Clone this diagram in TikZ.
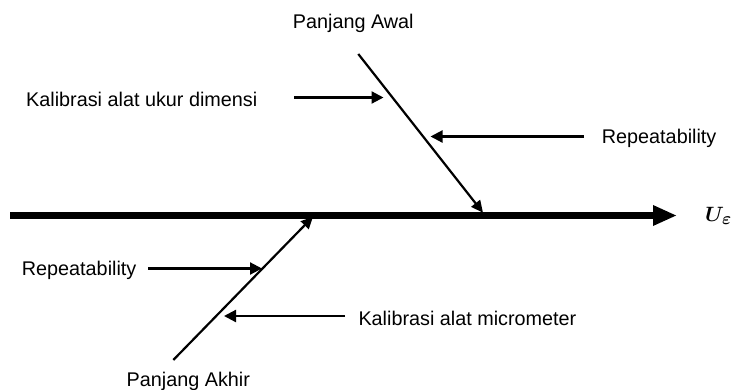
\documentclass[tikz,border=0pt]{standalone}
\usepackage{fontspec}
\setmainfont{Liberation Sans}
\usepackage{amsmath,bm}
\usetikzlibrary{arrows.meta}
\begin{document}
\begin{tikzpicture}[x=1pt,y=-1pt,
  lbl/.style={inner sep=0pt,anchor=base west,font=\fontsize{19.8}{23}\selectfont},
  spine/.style={line width=7pt,-{Triangle[length=24pt,width=19pt]}},
  bone/.style={line width=2.2pt,-{Triangle[length=12pt,width=11pt]}},
  cause/.style={line width=2.2pt,-{Triangle[length=12pt,width=12pt]}}]
\useasboundingbox (0,0) rectangle (733,389);
% spine
\coordinate (s0) at (10,215.5);
\coordinate (s1) at (677,215.5);
\draw[spine] (s0) -- (s1);
\node[inner sep=0pt,anchor=base west] (ue) at (705,221) {\fontsize{21}{24}\selectfont$\bm{U}$\kern-2pt\raisebox{-3pt}{\fontsize{17}{17}\selectfont$\bm{\varepsilon}$}};
% upper bone
\coordinate (a0) at (358.3,54);
\coordinate (a1) at (483,212.7);
\draw[bone] (a0) -- (a1);
\node[lbl,anchor=base] (awal) at (353.3,28.3) {Panjang Awal};
% lower bone
\coordinate (b0) at (173.3,360);
\coordinate (b1) at (313,216.7);
\draw[bone] (b0) -- (b1);
\node[lbl,anchor=base] (akhir) at (188.3,386) {Panjang Akhir};
% causes upper
\node[lbl] (k1) at (26,106.7) {Kalibrasi alat ukur dimensi};
\coordinate (k1s) at (294,97.5);
\coordinate (k1t) at (383.5,97.5);
\draw[cause] (k1s) -- (k1t);
\node[lbl] (r1) at (601.7,143.3) {Repeatability};
\coordinate (r1s) at (584,136.5);
\coordinate (r1t) at (430.5,136.5);
\draw[cause] (r1s) -- (r1t);
% causes lower
\node[lbl] (r2) at (21.7,275) {Repeatability};
\coordinate (r2s) at (148,268.5);
\coordinate (r2t) at (262,268.5);
\draw[cause] (r2s) -- (r2t);
\node[lbl] (k2) at (358.3,325) {Kalibrasi alat micrometer};
\coordinate (k2s) at (345,316);
\coordinate (k2t) at (224,316);
\draw[cause] (k2s) -- (k2t);
\end{tikzpicture}
\end{document}
